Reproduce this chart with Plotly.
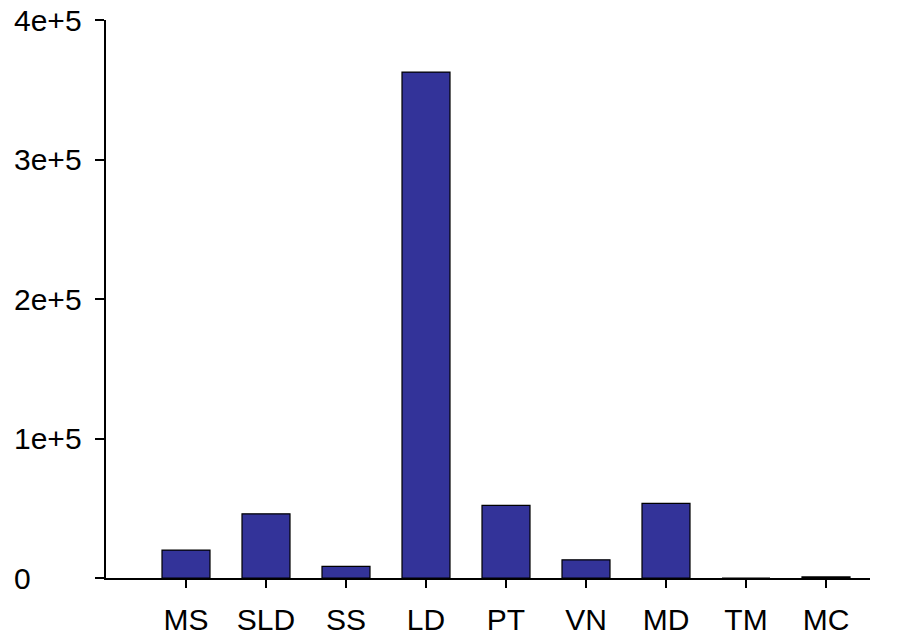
import plotly.graph_objects as go

# Category labels and measured totals
categories = ["MS", "SLD", "SS", "LD", "PT", "VN", "MD", "TM", "MC"]
values = [20000, 46000, 8400, 362700, 52000, 13000, 53500, 0, 800]

# Y axis tick positions and their labels
y_tickvals = [0, 100000, 200000, 300000, 400000]
y_ticktext = ["0", "1e+5", "2e+5", "3e+5", "4e+5"]

FONT = "Liberation Sans, Arial, sans-serif"
BAR_COLOR = "#333399"
LABEL_SIZE = 30

fig = go.Figure(
    go.Bar(
        x=categories,
        y=values,
        width=0.6,
        marker=dict(color=BAR_COLOR, line=dict(color="black", width=1.2)),
    )
)

fig.update_layout(
    width=899,
    height=638,
    margin=dict(l=106, r=29, t=20, b=60, autoexpand=False),
    paper_bgcolor="white",
    plot_bgcolor="white",
    showlegend=False,
    font=dict(family=FONT, color="black"),
)

fig.update_xaxes(
    type="category",
    range=[-1, 8.55],
    automargin=False,
    showline=True,
    linecolor="black",
    linewidth=1.5,
    ticks="outside",
    ticklen=8,
    tickwidth=1.5,
    tickcolor="black",
    ticklabelstandoff=6,
    tickfont=dict(family=FONT, size=LABEL_SIZE, color="black"),
    showgrid=False,
    zeroline=False,
    fixedrange=True,
)

fig.update_yaxes(
    range=[0, 400000],
    tickvals=y_tickvals,
    automargin=False,
    showticklabels=False,
    showline=True,
    linecolor="black",
    linewidth=1.5,
    ticks="outside",
    ticklen=9,
    tickwidth=1.5,
    tickcolor="black",
    showgrid=False,
    zeroline=False,
    fixedrange=True,
)

# Left-aligned y tick labels
for v, t in zip(y_tickvals, y_ticktext):
    fig.add_annotation(
        x=-0.123,
        xref="paper",
        y=v,
        yref="y",
        text=t,
        showarrow=False,
        xanchor="left",
        yanchor="middle",
        font=dict(family=FONT, size=LABEL_SIZE, color="black"),
    )

fig.write_html("out.html")
